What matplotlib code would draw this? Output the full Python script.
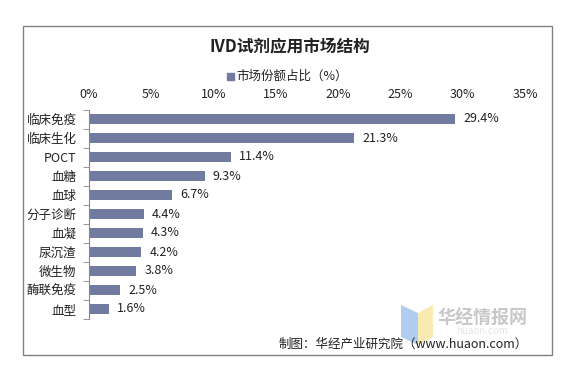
import matplotlib
matplotlib.use("Agg")
import matplotlib.pyplot as plt
from matplotlib.patches import Rectangle, Polygon

plt.rcParams['font.family'] = ['Noto Sans CJK SC', 'DejaVu Sans']

categories = ["临床免疫", "临床生化", "POCT", "血糖", "血球", "分子诊断", "血凝", "尿沉渣", "微生物", "酶联免疫", "血型"]
values = [29.4, 21.3, 11.4, 9.3, 6.7, 4.4, 4.3, 4.2, 3.8, 2.5, 1.6]
xticks = [0, 5, 10, 15, 20, 25, 30, 35]
xtick_labels = [f"{t}%" for t in xticks]
title = "IVD试剂应用市场结构"
legend_label = "市场份额占比（%）"
source = "制图：华经产业研究院（www.huaon.com）"

W, H = 574, 368
fig = plt.figure(figsize=(W / 100, H / 100), dpi=100)
fig.patch.set_facecolor("white")

def fx(px):
    return px / W

def fy(py):
    return 1 - py / H

# outer border
fig.add_artist(Rectangle((fx(23), fy(355)), fx(552) - fx(23), fy(26) - fy(355),
                         transform=fig.transFigure, fill=False, edgecolor="#808080", lw=1.0))

ax = fig.add_axes([fx(89), fy(318.5), fx(525) - fx(89), fy(109.5) - fy(318.5)])
bar_color = "#717ba0"
n = len(categories)
ypos = list(range(n))
ax.barh(ypos, values, height=0.5, color=bar_color)
ax.set_ylim(n - 0.5, -0.5)
ax.set_xlim(0, 35)
ax.set_yticks(ypos)
ax.set_yticklabels(categories, fontsize=9, color="#222222")
ax.tick_params(axis="y", length=0, pad=9)
ax.set_yticks([i - 0.5 for i in range(n + 1)], minor=True)
ax.tick_params(axis="y", which="minor", length=4, color="#888888")
ax.xaxis.tick_top()
ax.set_xticks(xticks)
ax.set_xticklabels(xtick_labels, fontsize=9, color="#222222")
ax.tick_params(axis="x", length=0, pad=6)
for s in ["top", "right", "bottom"]:
    ax.spines[s].set_visible(False)
ax.spines["left"].set_color("#888888")

for i, v in enumerate(values):
    ax.text(v + 0.65, i, f"{v}%", va="center", ha="left", fontsize=9, color="#222222")

fig.text(fx(290), fy(47), title, ha="center", va="center", fontsize=12, fontweight="bold", color="#222222")
fig.add_artist(Rectangle((fx(227), fy(80)), fx(7), fy(0) - fy(7), transform=fig.transFigure, color=bar_color))
fig.text(fx(236), fy(76), legend_label, ha="left", va="center", fontsize=9, color="#222222")

# watermark
fig.add_artist(Polygon([(fx(401), fy(305)), (fx(418), fy(313)), (fx(418), fy(345)), (fx(401), fy(337))],
                       closed=True, transform=fig.transFigure, color="#a8c8f0", alpha=0.9, lw=0))
fig.add_artist(Polygon([(fx(418), fy(313)), (fx(433), fy(305)), (fx(433), fy(337)), (fx(418), fy(345))],
                       closed=True, transform=fig.transFigure, color="#f8e8a8", alpha=0.9, lw=0))
fig.text(fx(482), fy(318), "华经情报网", ha="center", va="center", fontsize=13, fontweight="bold", color="#c8c8c8")
fig.text(fx(482), fy(331), "huaon.com", ha="center", va="center", fontsize=7, color="#e4e4e4")

fig.text(fx(528), fy(344), source, ha="right", va="center", fontsize=9, color="#222222")

fig.savefig("out.png", dpi=100, facecolor="white")
